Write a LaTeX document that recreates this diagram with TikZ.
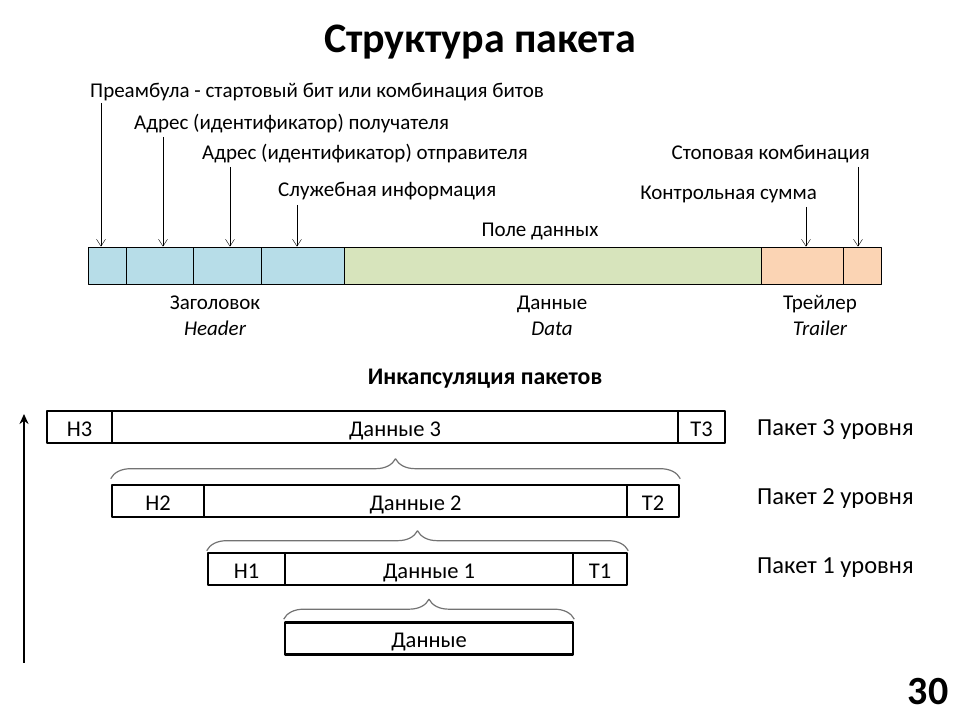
\documentclass[tikz,border=0pt]{standalone}
\usepackage{fontspec}
\setmainfont{Carlito}
\usetikzlibrary{arrows.meta,decorations.pathreplacing}
\definecolor{hdrblue}{HTML}{B7DDE8}
\definecolor{datagreen}{HTML}{D7E4BC}
\definecolor{trlorange}{HTML}{FBD4B4}
\begin{document}
\begin{tikzpicture}[>={Straight Barb[length=7pt,width=9pt]},line join=bevel,
  cell/.style={draw,line width=0.8bp,minimum height=37bp,inner sep=0pt},
  lbl/.style={font=\fontsize{21bp}{24bp}\selectfont,inner sep=0pt,text height=17bp,text depth=2bp},
  lblit/.style={lbl,font=\itshape\fontsize{21bp}{24bp}\selectfont},
  lvl/.style={lbl,font=\fontsize{24.5bp}{28bp}\selectfont,text height=22bp},
  pkt/.style={draw,line width=2.6bp,minimum height=32bp,inner sep=0pt,text height=21bp,text depth=2bp,font=\fontsize{22.5bp}{26bp}\selectfont},
  brc/.style={draw=black!55,line width=1.2bp,decorate,decoration={brace,amplitude=20bp}}]
\useasboundingbox (0bp,0bp) rectangle (960bp,720bp);
%%
\node (title) at (480bp,678bp) [font=\bfseries\fontsize{42bp}{46bp}\selectfont] {Структура пакета};
%% packet fields
  \node (c1) at (107bp,454.5bp) [cell,fill=hdrblue,minimum width=38bp] {};
  \node (c2) at (159.5bp,454.5bp) [cell,fill=hdrblue,minimum width=67bp] {};
  \node (c3) at (227bp,454.5bp) [cell,fill=hdrblue,minimum width=68bp] {};
  \node (c4) at (302.5bp,454.5bp) [cell,fill=hdrblue,minimum width=83bp] {};
  \node (c5) at (552.5bp,454.5bp) [cell,fill=datagreen,minimum width=417bp] {};
  \node (c6) at (802bp,454.5bp) [cell,fill=trlorange,minimum width=82bp] {};
  \node (c7) at (862bp,454.5bp) [cell,fill=trlorange,minimum width=38bp] {};
%% field captions
  \node (preamble) at (90bp,630bp) [lbl,anchor=west] {Преамбула - стартовый бит или комбинация битов};
  \node (dstaddr) at (134bp,598bp) [lbl,anchor=west] {Адрес (идентификатор) получателя};
  \node (srcaddr) at (202bp,568bp) [lbl,anchor=west] {Адрес (идентификатор) отправителя};
  \node (service) at (278bp,531bp) [lbl,anchor=west] {Служебная информация};
  \node (datafield) at (540bp,491bp) [lbl] {Поле данных};
  \node (stopcomb) at (870bp,568bp) [lbl,anchor=east] {Стоповая комбинация};
  \node (checksum) at (817bp,528bp) [lbl,anchor=east] {Контрольная сумма};
  \coordinate (a1) at (101bp,617bp);
  \coordinate (a2) at (163bp,583bp);
  \coordinate (a3) at (230bp,553bp);
  \coordinate (a4) at (297bp,515bp);
  \coordinate (a6) at (806bp,513bp);
  \coordinate (a7) at (858bp,553bp);
  \draw [black,->] (a1) -- (a1 |- c1.north);
  \draw [black,->] (a2) -- (a2 |- c2.north);
  \draw [black,->] (a3) -- (a3 |- c3.north);
  \draw [black,->] (a4) -- (a4 |- c4.north);
  \draw [black,->] (a6) -- (a6 |- c6.north);
  \draw [black,->] (a7) -- (a7 |- c7.north);
%% parts
  \node (header) at (215bp,418bp) [lbl] {Заголовок};
  \node (headeren) at (215bp,392bp) [lblit] {Header};
  \node (data) at (552bp,418bp) [lbl] {Данные};
  \node (dataen) at (552bp,392bp) [lblit] {Data};
  \node (trailer) at (820bp,418bp) [lbl] {Трейлер};
  \node (traileren) at (820bp,392bp) [lblit] {Trailer};
%% encapsulation
  \node (encap) at (485bp,344bp) [lbl,font=\bfseries\fontsize{23.8bp}{26bp}\selectfont,text height=19bp] {Инкапсуляция пакетов};
  \node (h3) at (79.5bp,293bp) [pkt,minimum width=65bp] {H3};
  \node (d3) at (395bp,293bp) [pkt,minimum width=566bp] {Данные 3};
  \node (t3) at (701.5bp,293bp) [pkt,minimum width=47bp] {T3};
  \node (h2) at (158bp,219bp) [pkt,minimum width=92bp] {H2};
  \node (d2) at (415.5bp,219bp) [pkt,minimum width=423bp] {Данные 2};
  \node (t2) at (653bp,219bp) [pkt,minimum width=52bp] {T2};
  \node (h1) at (246.5bp,151bp) [pkt,minimum width=77bp] {H1};
  \node (d1) at (429bp,151bp) [pkt,minimum width=288bp] {Данные 1};
  \node (t1) at (600bp,151bp) [pkt,minimum width=54bp] {T1};
  \node (d0) at (429bp,81.5bp) [pkt,minimum width=288bp] {Данные};
  \draw [brc] ([yshift=5bp]h2.north west) -- ([yshift=5bp]t2.north east);
  \draw [brc] ([yshift=1bp]h1.north west) -- ([yshift=1bp]t1.north east);
  \draw [brc] ([yshift=2bp]d0.north west) -- ([yshift=2bp]d0.north east);
  \node (lvl3) at (757bp,294bp) [lvl,anchor=west] {Пакет 3 уровня};
  \node (lvl2) at (757bp,225bp) [lvl,anchor=west] {Пакет 2 уровня};
  \node (lvl1) at (757bp,156bp) [lvl,anchor=west] {Пакет 1 уровня};
  \coordinate (up0) at (24bp,57bp);
  \coordinate (up1) at (24bp,306bp);
  \draw [black,line width=2.6bp,-{Stealth[length=10bp,width=9bp]}] (up0) -- (up1);
  \node (slide) at (928bp,28bp) [font=\bfseries\fontsize{40bp}{44bp}\selectfont] {30};
%
\end{tikzpicture}
\end{document}
